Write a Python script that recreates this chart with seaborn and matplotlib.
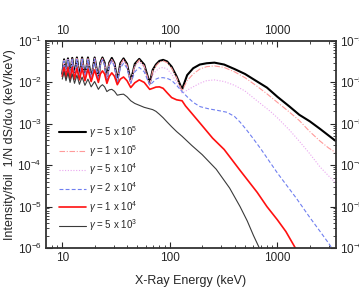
import numpy as np
import pandas as pd
import matplotlib
matplotlib.use("Agg")
import matplotlib.pyplot as plt
import seaborn as sns
from matplotlib.ticker import LogLocator, NullFormatter

# energy grid of the low-energy oscillation region (keV)
e_osc = [10.0, 10.4, 10.83, 11.3, 11.82, 12.38, 13.0, 13.68, 14.44, 15.29, 16.25, 17.33,
         18.57, 20.0, 21.67, 22.6, 23.64, 24.76, 26.0, 27.37, 28.89, 30.59, 32.5, 34.67,
         37.14, 40.0, 43.33, 47.27, 52.0, 57.78, 65.0, 69.3, 74.29, 80.0, 86.67, 94.5,
         104.0, 115.6, 130.0]

# gamma = 5e5
i_g5e5 = [0.016, 0.036, 0.015, 0.038, 0.014, 0.039, 0.014, 0.040, 0.013, 0.040, 0.013, 0.040,
          0.012, 0.040, 0.012, 0.030, 0.040, 0.030, 0.012, 0.030, 0.039, 0.029, 0.011, 0.029,
          0.038, 0.028, 0.0105, 0.028, 0.037, 0.027, 0.0095, 0.020, 0.027, 0.033, 0.035, 0.032,
          0.024, 0.014, 0.0068]
e_g5e5_tail = [145, 165, 190, 220, 260, 320, 400, 500, 630, 800, 1000, 1300, 1600, 2000, 2500, 3000, 3510]
i_g5e5_tail = [0.015, 0.022, 0.027, 0.029, 0.030, 0.027, 0.021, 0.016, 0.011, 0.0075, 0.0045, 0.0026,
               0.00165, 0.00115, 0.00075, 0.00052, 0.00038]

# gamma = 1e5
i_g1e5 = [0.015, 0.034, 0.014, 0.036, 0.013, 0.037, 0.013, 0.038, 0.012, 0.038, 0.012, 0.038,
          0.0115, 0.038, 0.0115, 0.028, 0.038, 0.028, 0.0115, 0.028, 0.037, 0.027, 0.0105, 0.027,
          0.036, 0.026, 0.010, 0.026, 0.035, 0.025, 0.009, 0.019, 0.025, 0.031, 0.033, 0.030,
          0.022, 0.013, 0.0063]
e_g1e5_tail = [145, 165, 190, 220, 260, 320, 400, 500, 630, 800, 1000, 1300, 1600, 2000, 2500, 3000, 3510]
i_g1e5_tail = [0.011, 0.016, 0.021, 0.024, 0.025, 0.023, 0.018, 0.013, 0.0085, 0.0053, 0.0033, 0.0019,
               0.0012, 0.00065, 0.00038, 0.00026, 0.0002]

# gamma = 5e4
i_g5e4 = [0.015, 0.034, 0.014, 0.036, 0.013, 0.037, 0.013, 0.038, 0.012, 0.038, 0.012, 0.038,
          0.0115, 0.038, 0.0115, 0.028, 0.037, 0.028, 0.011, 0.027, 0.036, 0.027, 0.0105, 0.026,
          0.034, 0.025, 0.0095, 0.024, 0.031, 0.023, 0.0085, 0.015, 0.019, 0.022, 0.023, 0.021,
          0.016, 0.010, 0.0055]
e_g5e4_tail = [160, 190, 220, 260, 320, 400, 500, 630, 860, 1000, 1300, 1600, 2000, 2500, 3000, 3510]
i_g5e4_tail = [0.0075, 0.0095, 0.011, 0.0115, 0.0105, 0.0085, 0.0062, 0.0038, 0.002, 0.0014, 0.0007,
               0.00038, 0.00019, 0.00009, 0.000055, 0.000037]

# gamma = 2e4
i_g2e4 = [0.015, 0.033, 0.014, 0.035, 0.013, 0.036, 0.013, 0.036, 0.012, 0.036, 0.012, 0.036,
          0.0115, 0.036, 0.011, 0.027, 0.035, 0.026, 0.0105, 0.025, 0.033, 0.024, 0.010, 0.022,
          0.029, 0.022, 0.0095, 0.018, 0.023, 0.018, 0.0085, 0.010, 0.012, 0.013, 0.013, 0.0125,
          0.0112, 0.0085, 0.006]
e_g2e4_tail = [145, 165, 191, 230, 280, 340, 400, 450, 520, 600, 700, 850, 1000, 1250, 1500, 2000,
               2500, 3000, 3300]
i_g2e4_tail = [0.0045, 0.0033, 0.0026, 0.0023, 0.0021, 0.0019, 0.0015, 0.0011, 0.0007, 0.00043,
               0.00025, 0.00012, 0.000065, 0.00003, 0.000016, 0.0000055, 0.0000025, 0.0000013,
               0.0000009]

# gamma = 1e4
i_g1e4 = [0.014, 0.023, 0.013, 0.023, 0.012, 0.023, 0.012, 0.022, 0.0115, 0.022, 0.011, 0.021,
          0.0105, 0.020, 0.010, 0.016, 0.019, 0.016, 0.0095, 0.014, 0.017, 0.014, 0.0088, 0.012,
          0.0135, 0.011, 0.0075, 0.0098, 0.0115, 0.010, 0.0068, 0.0072, 0.0077, 0.0078, 0.0072,
          0.0056, 0.0043, 0.0038, 0.0036]
e_g1e4_tail = [140, 166, 200, 250, 320, 450, 650, 800, 1000, 1200, 1470, 1600]
i_g1e4_tail = [0.0027, 0.0016, 0.0009, 0.00045, 0.00024, 0.000075, 0.000022, 0.00001, 0.0000048,
               0.0000025, 0.000001, 0.0000007]

# gamma = 5e3
i_g5e3 = [0.012, 0.018, 0.011, 0.017, 0.010, 0.016, 0.0095, 0.015, 0.009, 0.0135, 0.0085, 0.012,
          0.0078, 0.0105, 0.0068, 0.0080, 0.0088, 0.0078, 0.0060, 0.0066, 0.0068, 0.0061, 0.0049,
          0.0051, 0.0052, 0.0045, 0.0036, 0.0031, 0.0028, 0.0025, 0.0023, 0.0022, 0.0020, 0.0017,
          0.0014, 0.0011, 0.00085, 0.00065, 0.0005]
e_g5e3_tail = [160, 200, 270, 360, 450, 525, 600, 680, 750]
i_g5e3_tail = [3e-4, 1.8e-4, 8e-5, 2.8e-5, 1e-5, 4.5e-6, 2e-6, 1e-6, 6e-7]

labels = [r"$\gamma$ = 5 x 10$^5$", r"$\gamma$ = 1 x 10$^5$", r"$\gamma$ = 5 x 10$^4$",
          r"$\gamma$ = 2 x 10$^4$", r"$\gamma$ = 1 x 10$^4$", r"$\gamma$ = 5 x 10$^3$"]

curves = [
    (i_g5e5, e_g5e5_tail, i_g5e5_tail, dict(color="black", lw=1.5, ls="-")),
    (i_g1e5, e_g1e5_tail, i_g1e5_tail, dict(color="#ff9a9a", lw=0.8, ls=(0, (5, 1.5, 1, 1.5)))),
    (i_g5e4, e_g5e4_tail, i_g5e4_tail, dict(color="#eaa6f0", lw=0.8, ls=(0, (1, 1.5)))),
    (i_g2e4, e_g2e4_tail, i_g2e4_tail, dict(color="#6f7ff0", lw=0.8, ls=(0, (3.5, 2)))),
    (i_g1e4, e_g1e4_tail, i_g1e4_tail, dict(color="#ff1010", lw=1.2, ls="-")),
    (i_g5e3, e_g5e3_tail, i_g5e3_tail, dict(color="#3a3a3a", lw=0.8, ls="-")),
]

sns.set_style("ticks")
plt.rcParams['font.family'] = ['Liberation Sans', 'DejaVu Sans']
plt.rcParams['mathtext.fontset'] = 'custom'
plt.rcParams['mathtext.rm'] = 'Liberation Sans'
plt.rcParams['mathtext.it'] = 'Liberation Sans:italic'

fig = plt.figure(figsize=(3.59, 2.94), dpi=100)
ax = fig.add_axes([46 / 359, 1 - 248 / 294, 290 / 359, 207 / 294])

for (i_osc, e_tail, i_tail, st), lab in zip(curves, labels):
    df = pd.DataFrame({"E": e_osc + e_tail, "I": i_osc + i_tail})
    sns.lineplot(data=df, x="E", y="I", ax=ax, estimator=None, sort=False,
                 color=st["color"], linewidth=st["lw"], linestyle=st["ls"], label=lab)

ax.set_xscale("log")
ax.set_yscale("log")
ax.set_xlim(7.06, 3510)
ax.set_ylim(1e-6, 1e-1)

ax.xaxis.set_major_locator(LogLocator(base=10))
ax.xaxis.set_minor_locator(LogLocator(base=10, subs=np.arange(2, 10)))
ax.xaxis.set_minor_formatter(NullFormatter())
ax.yaxis.set_major_locator(LogLocator(base=10))
ax.yaxis.set_minor_locator(LogLocator(base=10, subs=np.arange(2, 10)))
ax.yaxis.set_minor_formatter(NullFormatter())
ax.set_xticks([10, 100, 1000])
ax.set_xticklabels(["10", "100", "1000"])

ax.tick_params(which="both", direction="in", top=True, right=True,
               labeltop=True, labelright=True, labelsize=8.5, pad=3)
ax.tick_params(which="major", length=4, width=0.8)
ax.tick_params(which="minor", length=2, width=0.6)
for sp in ax.spines.values():
    sp.set_linewidth(1.3)
    sp.set_color("#333333")

ax.set_xlabel("X-Ray Energy (keV)", fontsize=9, labelpad=8)
ax.set_ylabel("Intensity/foil  1/N dS/d\u03c9 (keV/keV)", fontsize=9, labelpad=1)

ax.legend(loc="upper left", frameon=False, fontsize=7, handlelength=2.8,
          handletextpad=0.25, labelspacing=0.3, borderpad=0, borderaxespad=0)
ax.legend_.set_bbox_to_anchor((59 / 359, 1 - 124 / 294), transform=fig.transFigure)

fig.savefig("out.png", dpi=100)
